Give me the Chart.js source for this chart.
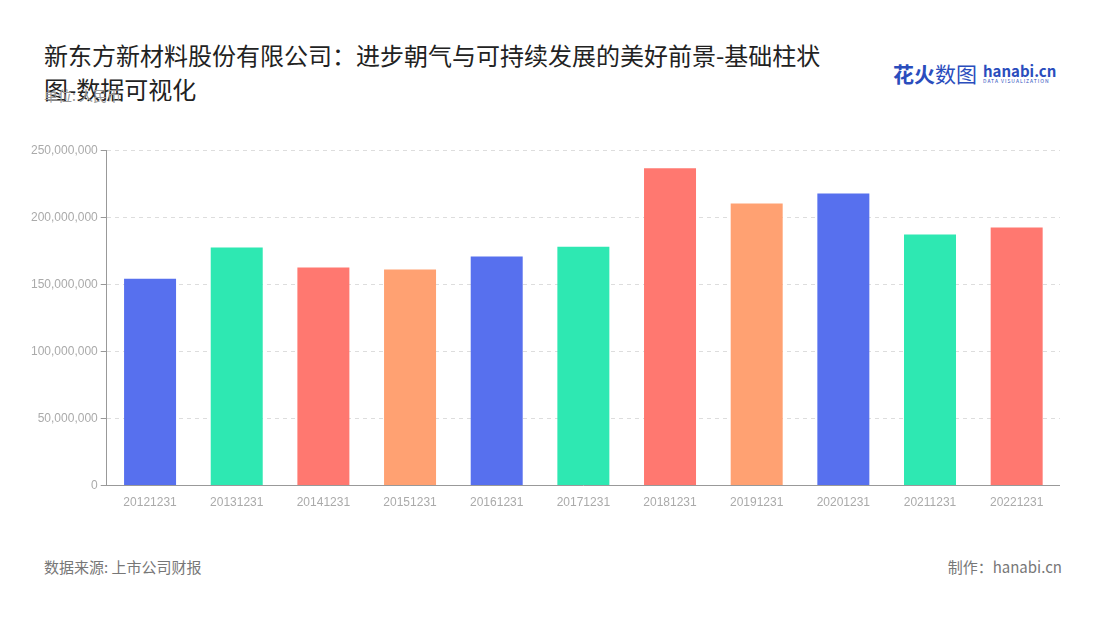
<!DOCTYPE html>
<html><head><meta charset="utf-8">
<script src="https://cdn.jsdelivr.net/npm/chart.js@4"></script>
<style>
body{margin:0;width:1100px;height:620px;background:#fff;font-family:"Noto Sans CJK SC","Noto Sans",sans-serif;position:relative;overflow:hidden}
#title{position:absolute;left:44px;top:38px;font-size:24px;line-height:34px;color:#222;width:800px}
#unit{position:absolute;left:44px;top:85px;font-size:14px;color:#999}
#src{position:absolute;left:44px;top:556px;font-size:15px;color:#777}
#made{position:absolute;right:38px;top:556px;font-size:15px;color:#777}
#logo{position:absolute;left:893px;top:58px;display:flex;align-items:center}
#wrap{position:absolute;left:28px;top:140px;width:1032px;height:372px}
</style></head><body>
<div id="title">新东方新材料股份有限公司：进步朝气与可持续发展的美好前景-基础柱状图-数据可视化</div>
<div id="unit">单位: 人民币</div>
<div id="logo"><span style="font-size:21px;font-weight:bold;color:#2a4dbd">花火</span><span style="font-size:21px;color:#2a4dbd">数图</span>
<span style="margin-left:6px;display:flex;flex-direction:column;line-height:1"><span style="font-size:15px;font-weight:bold;color:#2a4dbd">hanabi.cn</span><span style="font-size:5px;color:#2a4dbd;letter-spacing:1px">DATA VISUALIZATION</span></span></div>
<div id="wrap"><canvas id="c"></canvas></div>
<div id="src">数据来源: 上市公司财报</div>
<div id="made">制作：hanabi.cn</div>
<script>
const categories=["20121231","20131231","20141231","20151231","20161231","20171231","20181231","20191231","20201231","20211231","20221231"];
const values=[154200000,177500000,162500000,161000000,170800000,178000000,236500000,210300000,217800000,187100000,192400000];
const palette=["#5770ee","#2ee8b2","#ff7870","#ffa172"];
const colors=categories.map((_,i)=>palette[i%4]);
new Chart(document.getElementById('c'),{type:'bar',
data:{labels:categories,datasets:[{data:values,backgroundColor:colors,categoryPercentage:0.6,barPercentage:1}]},
options:{responsive:true,maintainAspectRatio:false,animation:false,
layout:{padding:{left:0,right:0,top:5}},
plugins:{legend:{display:false},tooltip:{enabled:false}},
scales:{
x:{grid:{display:false},border:{color:'#999'},ticks:{color:'#aaa',font:{size:12},padding:2}},
y:{min:0,max:250000000,ticks:{stepSize:50000000,color:'#aaa',font:{size:12},callback:v=>v.toLocaleString('en-US')},
grid:{color:'#ddd',tickColor:'#999',tickLength:6,drawTicks:true},border:{display:true,color:'#999',dash:[4,4]}}
}}});
</script></body></html>
